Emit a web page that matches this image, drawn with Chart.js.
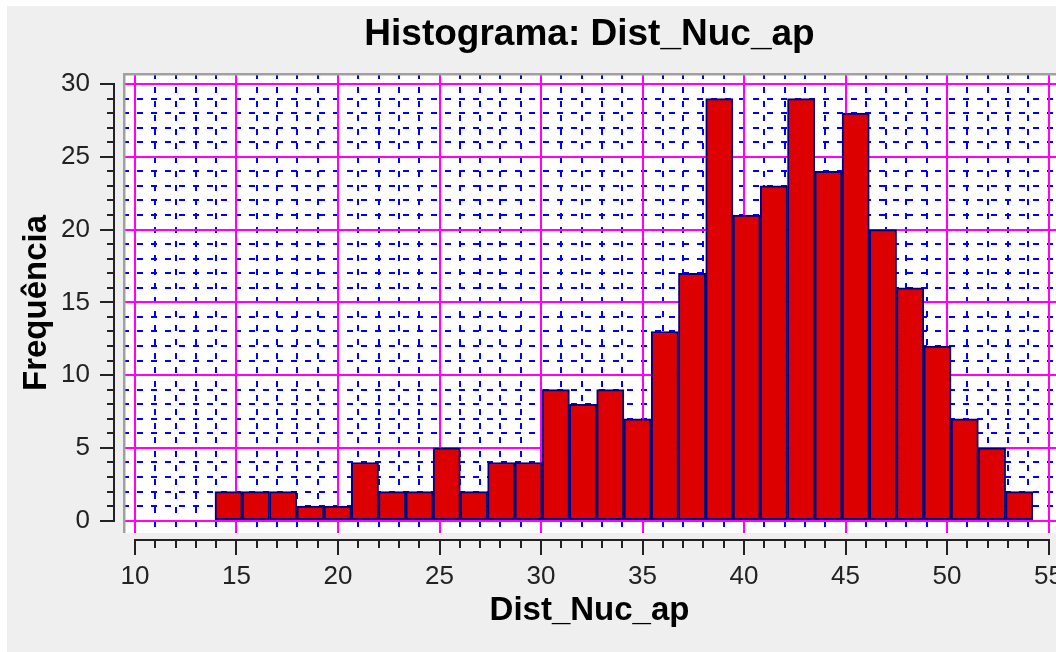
<!DOCTYPE html>
<html>
<head>
<meta charset="utf-8">
<title>Histograma: Dist_Nuc_ap</title>
<script src="https://cdn.jsdelivr.net/npm/chart.js@4.4.1/dist/chart.umd.min.js"></script>
<style>
  html, body { margin: 0; padding: 0; background: #ffffff; }
  #wrap { width: 1056px; height: 652px; position: relative; }
</style>
</head>
<body>
<div id="wrap"><canvas id="hist"></canvas></div>
<script>
// histogram bins
const binStart = 13.94;
const binWidth = 1.343;
const counts = [2, 2, 2, 1, 1, 4, 2, 2, 5, 2, 4, 4, 9, 8, 9, 7, 13, 17, 29, 21, 23, 29, 24, 28, 20, 16, 12, 7, 5, 2];

// axis ranges (plot area is padded a bit past 10..55 and 0..30)
const xRange = [9.409, 55.369];
const yRange = [-0.845, 30.756];
const majorStep = 5;

const points = counts.map((c, i) => ({ x: binStart + binWidth * (i + 0.5), y: c }));

Chart.defaults.font.family = '"Liberation Sans", Arial, sans-serif';

function isMajor(ctx) {
    return ctx.tick && Math.round(ctx.tick.value) % majorStep === 0;
}

function majorLabel(v) {
    return v % majorStep === 0 ? v : '';
}

const plotFrame = {
    id: 'plotFrame',
    beforeDraw(chart) {
        const ctx = chart.ctx;
        const a = chart.chartArea;
        ctx.save();
        ctx.fillStyle = '#ffffff';
        ctx.fillRect(0, 0, chart.width, chart.height);
        ctx.fillStyle = '#efefef';
        ctx.fillRect(7, 6, chart.width - 7, chart.height - 6);
        ctx.fillStyle = '#ffffff';
        ctx.fillRect(a.left, a.top, a.right - a.left, a.bottom - a.top);
        ctx.restore();
    },
    beforeDatasetsDraw(chart) {
        // sunken frame, top and left
        const ctx = chart.ctx;
        const a = chart.chartArea;
        ctx.save();
        ctx.fillStyle = '#a0a0a0';
        ctx.fillRect(a.left, a.top, 2.5, a.bottom - a.top);
        ctx.fillRect(a.left, a.top, a.right - a.left, 2.5);
        ctx.restore();
    },
    afterDraw(chart) {
        // axis lines only over the tick range
        const ctx = chart.ctx;
        const x = chart.scales.x;
        const y = chart.scales.y;
        const yTop = y.getPixelForValue(y.ticks[y.ticks.length - 1].value);
        const yBot = y.getPixelForValue(y.ticks[0].value);
        const xLeft = x.getPixelForValue(x.ticks[0].value);
        const xRight = x.getPixelForValue(x.ticks[x.ticks.length - 1].value);
        ctx.save();
        ctx.strokeStyle = '#222222';
        ctx.lineWidth = 2;
        ctx.beginPath();
        ctx.moveTo(y.right - 1, yTop - 1);
        ctx.lineTo(y.right - 1, yBot + 1);
        ctx.moveTo(xLeft - 1, x.top + 1);
        ctx.lineTo(xRight + 1, x.top + 1);
        ctx.stroke();
        ctx.restore();
    }
};

const ctx = document.getElementById('hist').getContext('2d');
new Chart(ctx, {
    type: 'bar',
    data: {
        datasets: [{
            label: 'Frequência',
            data: points,
            backgroundColor: '#dd0000',
            borderColor: '#000080',
            borderWidth: 2,
            borderSkipped: false,
            categoryPercentage: 1,
            barPercentage: 1,
            xAxisID: 'xBins',
            yAxisID: 'y'
        }]
    },
    options: {
        responsive: true,
        maintainAspectRatio: false,
        animation: false,
        devicePixelRatio: 1,
        layout: { padding: 0 },
        plugins: {
            legend: { display: false },
            tooltip: { enabled: false },
            title: {
                display: true,
                text: 'Histograma: Dist_Nuc_ap',
                fullSize: false,
                color: '#000000',
                font: { size: 37, weight: 'bold' },
                padding: { top: 13, bottom: 15.6 }
            }
        },
        scales: {
            // bins scale: same range, no dense ticks so bars get the full bin width
            xBins: {
                type: 'linear',
                position: 'bottom',
                display: false,
                min: xRange[0],
                max: xRange[1],
                offset: false,
                grid: { offset: false },
                ticks: { stepSize: majorStep }
            },
            x: {
                type: 'linear',
                position: 'bottom',
                weight: 10,
                min: xRange[0],
                max: xRange[1],
                offset: false,
                grid: {
                    offset: false,
                    z: -1,
                    color: c => isMajor(c) ? '#ff00ff' : 'rgba(0,0,0,0)',
                    lineWidth: 2,
                    tickLength: 16,
                    tickWidth: 2,
                    tickColor: '#222222',
                    tickBorderDash: c => isMajor(c) ? [] : [9, 40]
                },
                border: { display: false },
                ticks: {
                    stepSize: 1,
                    includeBounds: false,
                    autoSkip: false,
                    maxRotation: 0,
                    minRotation: 0,
                    padding: 6,
                    color: '#222222',
                    font: { size: 26 },
                    callback: majorLabel
                },
                title: {
                    display: true,
                    text: 'Dist_Nuc_ap',
                    color: '#000000',
                    font: { size: 33, weight: 'bold' },
                    padding: { top: 0, bottom: 21 }
                },
                afterFit: s => { s.height = 113; s.paddingLeft = 0; s.paddingRight = 0; }
            },
            xMinor: {
                type: 'linear',
                position: 'bottom',
                weight: 0,
                min: xRange[0],
                max: xRange[1],
                offset: false,
                grid: {
                    offset: false,
                    z: -2,
                    color: c => isMajor(c) ? 'rgba(0,0,0,0)' : '#0000ff',
                    lineWidth: 2,
                    drawTicks: false
                },
                border: { display: false, dash: [6, 8] },
                ticks: { display: false, stepSize: 1, includeBounds: false, autoSkip: false },
                afterFit: s => { s.height = 6; s.paddingLeft = 0; s.paddingRight = 0; }
            },
            y: {
                type: 'linear',
                position: 'left',
                weight: 10,
                min: yRange[0],
                max: yRange[1],
                grid: {
                    z: -1,
                    color: c => isMajor(c) ? '#ff00ff' : 'rgba(0,0,0,0)',
                    lineWidth: 2,
                    tickLength: 15,
                    tickWidth: 2,
                    tickColor: '#222222',
                    tickBorderDash: c => isMajor(c) ? [] : [8, 40],
                    tickBorderDashOffset: -7
                },
                border: { display: false },
                ticks: {
                    stepSize: 1,
                    includeBounds: false,
                    autoSkip: false,
                    padding: 10,
                    color: '#222222',
                    font: { size: 26 },
                    callback: majorLabel
                },
                title: {
                    display: true,
                    text: 'Frequência',
                    color: '#000000',
                    font: { size: 33, weight: 'bold' },
                    padding: { top: 17, bottom: 0 }
                },
                afterFit: s => { s.width = 115; s.paddingTop = 0; s.paddingBottom = 0; }
            },
            yMinor: {
                type: 'linear',
                position: 'left',
                weight: 0,
                min: yRange[0],
                max: yRange[1],
                grid: {
                    z: -2,
                    color: c => isMajor(c) ? 'rgba(0,0,0,0)' : '#0000ff',
                    lineWidth: 2,
                    drawTicks: false
                },
                border: { display: false, dash: [6, 8] },
                ticks: { display: false, stepSize: 1, includeBounds: false, autoSkip: false },
                afterFit: s => { s.width = 8; s.paddingTop = 0; s.paddingBottom = 0; }
            }
        }
    },
    plugins: [plotFrame]
});
</script>
</body>
</html>
